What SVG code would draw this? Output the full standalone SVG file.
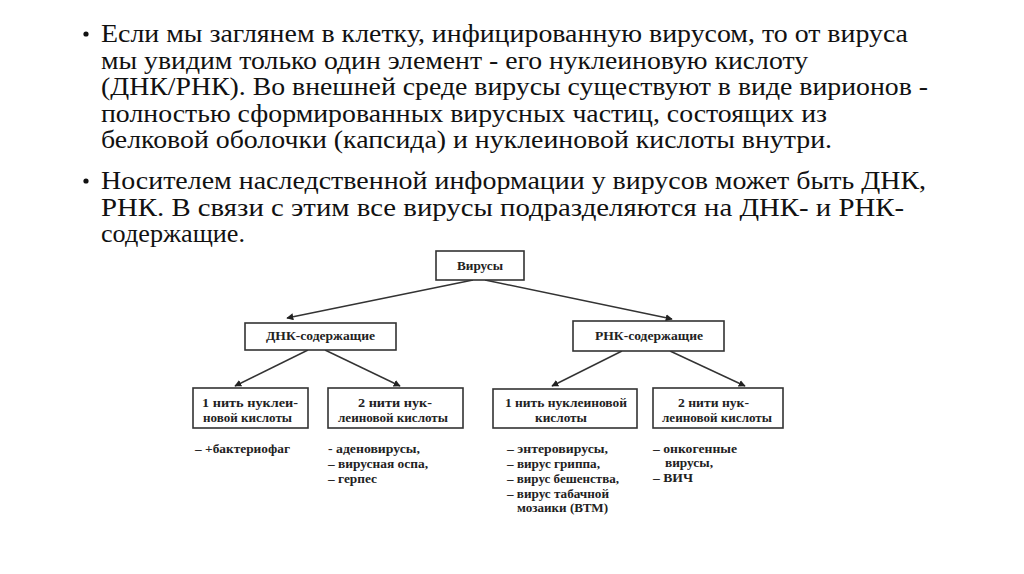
<svg xmlns="http://www.w3.org/2000/svg" width="1024" height="574" viewBox="0 0 1024 574">
<defs>
<style>
.t{font-size:25px;fill:#111}
.b{font-size:11.5px;font-weight:bold;fill:#222}
.box{fill:#fff;stroke:#333;stroke-width:1.6}
.c{stroke:#333;stroke-width:1.4;fill:none}
</style>
<marker id="ah" viewBox="0 0 10 10" refX="9" refY="5" markerWidth="7" markerHeight="7" markerUnits="userSpaceOnUse" orient="auto">
<path d="M0,0 L10,5 L0,10 z" fill="#222"/>
</marker>
</defs>
<rect width="1024" height="574" fill="#fff"/>
<g id="text" font-family="Liberation Serif, Times New Roman, serif">
<circle cx="86" cy="34" r="2.6" fill="#111"/>
<text class="t" x="101" y="42" textLength="807" lengthAdjust="spacingAndGlyphs">Если мы заглянем в клетку, инфицированную вирусом, то от вируса</text>
<text class="t" x="101" y="68.5" textLength="707" lengthAdjust="spacingAndGlyphs">мы увидим только один элемент - его нуклеиновую кислоту</text>
<text class="t" x="101" y="95" textLength="827" lengthAdjust="spacingAndGlyphs">(ДНК/РНК). Во внешней среде вирусы существуют в виде вирионов -</text>
<text class="t" x="101" y="121.5" textLength="726" lengthAdjust="spacingAndGlyphs">полностью сформированных вирусных частиц, состоящих из</text>
<text class="t" x="101" y="148" textLength="731" lengthAdjust="spacingAndGlyphs">белковой оболочки (капсида) и нуклеиновой кислоты внутри.</text>
<circle cx="86" cy="181" r="2.6" fill="#111"/>
<text class="t" x="101" y="189" textLength="825" lengthAdjust="spacingAndGlyphs">Носителем наследственной информации у вирусов может быть ДНК,</text>
<text class="t" x="101" y="215.5" textLength="803" lengthAdjust="spacingAndGlyphs">РНК. В связи с этим все вирусы подразделяются на ДНК- и РНК-</text>
<text class="t" x="101" y="242" textLength="144" lengthAdjust="spacingAndGlyphs">содержащие.</text>
</g>
<g id="connectors">
<line class="c" x1="473" y1="280" x2="287" y2="318" marker-end="url(#ah)"/>
<line class="c" x1="485" y1="280" x2="672" y2="319" marker-end="url(#ah)"/>
<line class="c" x1="308" y1="350" x2="235" y2="386" marker-end="url(#ah)"/>
<line class="c" x1="325" y1="350" x2="400" y2="386" marker-end="url(#ah)"/>
<line class="c" x1="622" y1="351" x2="552" y2="386" marker-end="url(#ah)"/>
<line class="c" x1="670" y1="351" x2="745" y2="386" marker-end="url(#ah)"/>
</g>
<g font-family="Liberation Serif, Times New Roman, serif">
<g id="viruses">
<rect class="box" x="436" y="251" width="88" height="29"/>
<text class="b" x="457" y="270" textLength="46" lengthAdjust="spacingAndGlyphs">Вирусы</text>
</g>
<g id="dna">
<rect class="box" x="245" y="323" width="151" height="27"/>
<text class="b" x="266" y="340" textLength="109" lengthAdjust="spacingAndGlyphs">ДНК-содержащие</text>
</g>
<g id="rna">
<rect class="box" x="573" y="321" width="151" height="30"/>
<text class="b" x="595" y="340" textLength="108" lengthAdjust="spacingAndGlyphs">РНК-содержащие</text>
</g>
<g id="dna1">
<rect class="box" x="193" y="388" width="115" height="40"/>
<text class="b" x="202" y="407" textLength="96" lengthAdjust="spacingAndGlyphs">1  нить  нуклеи-</text>
<text class="b" x="203" y="422" textLength="89" lengthAdjust="spacingAndGlyphs">новой кислоты</text>
<text class="b" x="195" y="453" textLength="95" lengthAdjust="spacingAndGlyphs">– +бактериофаг</text>
</g>
<g id="dna2">
<rect class="box" x="328" y="388" width="135" height="40"/>
<text class="b" x="358" y="407" textLength="74" lengthAdjust="spacingAndGlyphs">2 нити нук-</text>
<text class="b" x="338" y="422" textLength="110" lengthAdjust="spacingAndGlyphs">леиновой кислоты</text>
<text class="b" x="328" y="453" textLength="92" lengthAdjust="spacingAndGlyphs">- аденовирусы,</text>
<text class="b" x="328" y="468" textLength="100" lengthAdjust="spacingAndGlyphs">– вирусная оспа,</text>
<text class="b" x="328" y="483" textLength="49" lengthAdjust="spacingAndGlyphs">– герпес</text>
</g>
<g id="rna1">
<rect class="box" x="493" y="389" width="144" height="39"/>
<text class="b" x="505" y="407" textLength="122" lengthAdjust="spacingAndGlyphs">1 нить нуклеиновой</text>
<text class="b" x="535" y="422" textLength="52" lengthAdjust="spacingAndGlyphs">кислоты</text>
<text class="b" x="507" y="453" textLength="101" lengthAdjust="spacingAndGlyphs">– энтеровирусы,</text>
<text class="b" x="507" y="468" textLength="93" lengthAdjust="spacingAndGlyphs">– вирус гриппа,</text>
<text class="b" x="507" y="483" textLength="112" lengthAdjust="spacingAndGlyphs">– вирус бешенства,</text>
<text class="b" x="507" y="498" textLength="102" lengthAdjust="spacingAndGlyphs">– вирус табачной</text>
<text class="b" x="517" y="512" textLength="91" lengthAdjust="spacingAndGlyphs">мозаики (ВТМ)</text>
</g>
<g id="rna2">
<rect class="box" x="653" y="388" width="130" height="40"/>
<text class="b" x="678" y="407" textLength="71" lengthAdjust="spacingAndGlyphs">2 нити нук-</text>
<text class="b" x="662" y="422" textLength="110" lengthAdjust="spacingAndGlyphs">леиновой кислоты</text>
<text class="b" x="653" y="453" textLength="84" lengthAdjust="spacingAndGlyphs">– онкогенные</text>
<text class="b" x="665" y="467" textLength="48" lengthAdjust="spacingAndGlyphs">вирусы,</text>
<text class="b" x="653" y="482" textLength="40" lengthAdjust="spacingAndGlyphs">– ВИЧ</text>
</g>
</g>
</svg>
